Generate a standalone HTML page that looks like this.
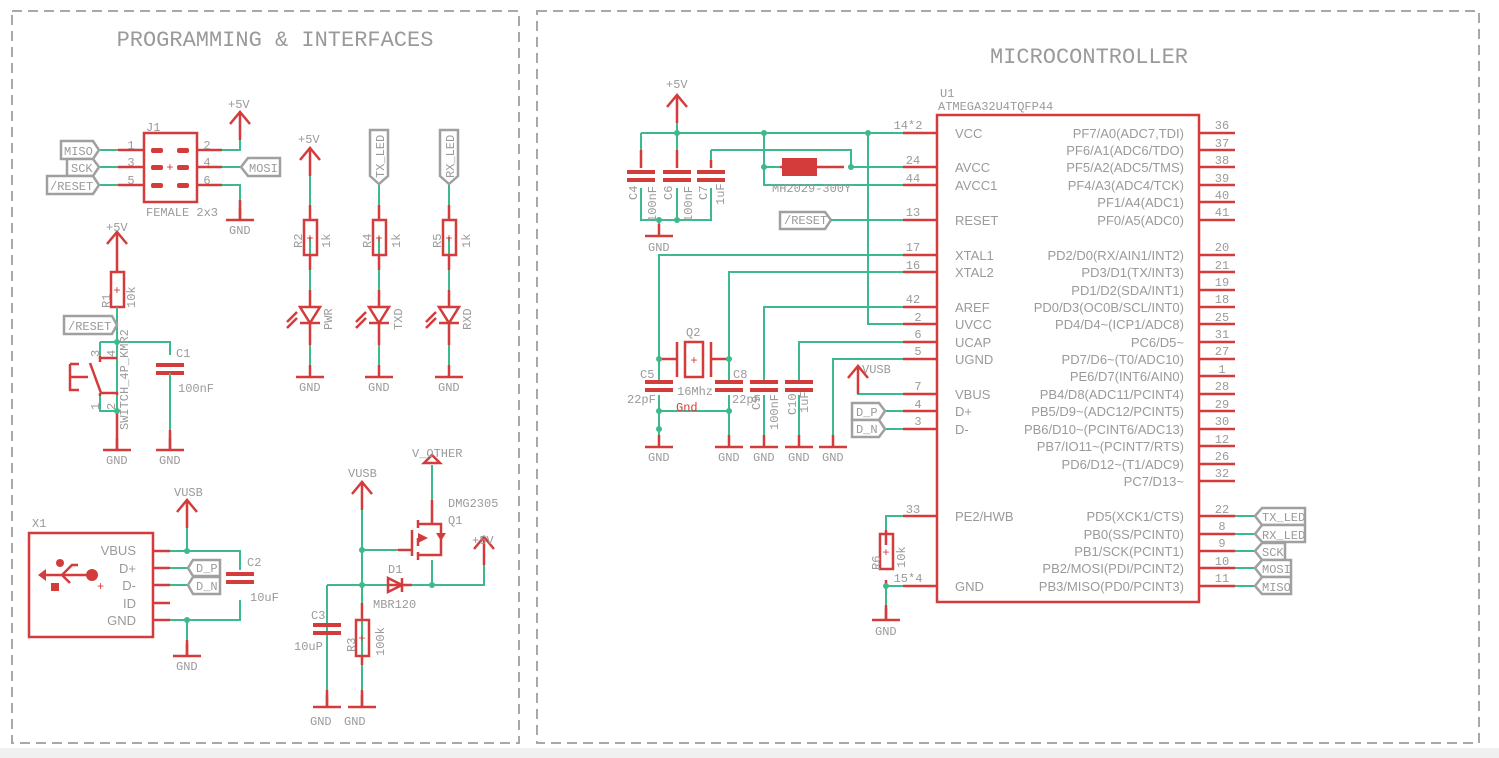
<!DOCTYPE html>
<html><head><meta charset="utf-8"><style>
html,body{margin:0;padding:0;background:#fff;}
svg{display:block;}
text{font-family:"Liberation Mono",monospace;fill:#9a9a9a;font-size:12px;}
.s text, text.s{font-family:"Liberation Sans",sans-serif;font-size:13px;}
.r{stroke:#d43c3c;stroke-width:2.5;fill:none;}
.g{stroke:#3dba8c;stroke-width:2;fill:none;}
.gy{stroke:#a0a0a0;stroke-width:2.5;fill:#fff;}
.rf{fill:#d43c3c;}
.j{fill:#3dba8c;}
</style></head><body>
<svg width="1499" height="758" viewBox="0 0 1499 758" xmlns="http://www.w3.org/2000/svg">
<defs>
<g id="gnd"><line x1="-14" y1="0" x2="14" y2="0" class="r"/><line x1="0" y1="0" x2="0" y2="-12" class="r"/></g>
<g id="sup"><line x1="0" y1="0" x2="0" y2="-28" class="r"/><polyline points="-10,-16 0,-28 10,-16" class="r"/></g>
<g id="capv"><line x1="-14" y1="0" x2="14" y2="0" stroke="#d43c3c" stroke-width="4"/><line x1="-14" y1="8" x2="14" y2="8" stroke="#d43c3c" stroke-width="4"/></g>
</defs>
<rect x="0" y="748" width="1499" height="10" fill="#f0f0f0"/>
<rect x="12" y="11" width="507" height="732" fill="none" stroke="#a8a8a8" stroke-width="2" stroke-dasharray="10,6"/>
<rect x="537" y="11" width="942" height="732" fill="none" stroke="#a8a8a8" stroke-width="2" stroke-dasharray="10,6"/>
<text x="275" y="46" text-anchor="middle" style="font-size:22px">PROGRAMMING &amp; INTERFACES</text>
<text x="1089" y="63" text-anchor="middle" style="font-size:22px">MICROCONTROLLER</text>

<!-- J1 -->
<rect x="144" y="133" width="53" height="69" class="r" stroke-width="3"/>
<g class="rf"><rect x="151" y="148" width="12" height="5" rx="2"/><rect x="177" y="148" width="12" height="5" rx="2"/><rect x="151" y="165" width="12" height="5" rx="2"/><rect x="177" y="165" width="12" height="5" rx="2"/><rect x="151" y="183" width="12" height="5" rx="2"/><rect x="177" y="183" width="12" height="5" rx="2"/></g>
<text x="170" y="171" text-anchor="middle" style="fill:#d43c3c">+</text>
<path d="M118 150H144M118 167H144M118 185H144M197 150H222M197 167H222M197 185H222" class="r"/>
<path d="M100 150H118M100 167H118M100 185H118M222 150H240V120M222 167H240M222 185H240V200" class="g"/>
<line x1="240" y1="200" x2="240" y2="220" class="r"/>
<text x="131" y="149" text-anchor="middle">1</text><text x="131" y="166" text-anchor="middle">3</text><text x="131" y="184" text-anchor="middle">5</text>
<text x="207" y="149" text-anchor="middle">2</text><text x="207" y="166" text-anchor="middle">4</text><text x="207" y="184" text-anchor="middle">6</text>
<text x="146" y="131">J1</text><text x="146" y="216">FEMALE 2x3</text>
<use href="#sup" x="240" y="140"/><text x="228" y="108">+5V</text>
<use href="#gnd" x="240" y="220"/><text x="229" y="234">GND</text>
<polygon points="61,141 93,141 99,150 93,159 61,159" class="gy"/><text x="64" y="155">MISO</text>
<polygon points="67,159 93,159 99,167 93,176 67,176" class="gy"/><text x="71" y="172">SCK</text>
<polygon points="47,176 93,176 99,185 93,194 47,194" class="gy"/><text x="50" y="190">/RESET</text>
<polygon points="280,158 248,158 241,167 248,176 280,176" class="gy"/><text x="249" y="172">MOSI</text>

<!-- R1 / reset -->
<use href="#sup" x="117" y="260"/><text x="106" y="231">+5V</text>
<line x1="117" y1="260" x2="117" y2="272" class="r"/>
<rect x="111" y="272" width="13" height="35" class="r"/><text x="117" y="294" text-anchor="middle" style="fill:#d43c3c">+</text>
<text x="0" y="0" transform="translate(110,308) rotate(-90)">R1</text><text x="0" y="0" transform="translate(135,308) rotate(-90)">10k</text>
<path d="M117 307V411M100 325H117M100 342H170V355M100 342V358M100 395V411H117" class="g"/>
<polygon points="64,316 112,316 117,325 112,334 64,334" class="gy"/><text x="68" y="330">/RESET</text>
<path d="M100 358H117M100 356V362M101 393H117V395M100 393V396M90 363L101 393M70 364V390H79M70 364H79M70 377H88" class="r"/>
<text x="0" y="0" transform="translate(128,430) rotate(-90)">SWITCH_4P_KMR2</text>
<text x="0" y="0" transform="translate(99,357) rotate(-90)">3</text><text x="0" y="0" transform="translate(115,357) rotate(-90)">4</text>
<text x="0" y="0" transform="translate(99,410) rotate(-90)">1</text><text x="0" y="0" transform="translate(115,410) rotate(-90)">2</text>
<line x1="117" y1="411" x2="117" y2="450" class="r"/>
<use href="#capv" x="170" y="365"/><text x="176" y="357">C1</text><text x="178" y="392">100nF</text>
<path d="M170 373V430" class="g"/><line x1="170" y1="430" x2="170" y2="450" class="r"/>
<use href="#gnd" x="117" y="450"/><text x="106" y="464">GND</text>
<use href="#gnd" x="170" y="450"/><text x="159" y="464">GND</text>
<circle cx="117" cy="342" r="3" class="j"/><circle cx="117" cy="411" r="3" class="j"/>

<!-- LEDs -->
<g id="ledcol">
<path d="M310 165V205M310 237V300M310 345V377" class="g"/>
<path d="M310 205V220M310 255V270M310 290V307M310 323V345M300 307H320L310 323ZM300 323H320" class="r"/>
<rect x="304" y="220" width="13" height="35" class="r"/><text x="310" y="242" text-anchor="middle" style="fill:#d43c3c">+</text>
<path d="M297 312L287 322M297 318L287 328" class="r"/>
<use href="#gnd" x="310" y="377"/>
</g>
<use href="#ledcol" x="69"/><use href="#ledcol" x="139"/>
<use href="#sup" x="310" y="176"/><text x="298" y="143">+5V</text>
<polygon points="370,130 388,130 388,176 379,184 370,176" class="gy"/><text x="0" y="0" transform="translate(384,178) rotate(-90)">TX_LED</text>
<polygon points="440,130 458,130 458,176 449,184 440,176" class="gy"/><text x="0" y="0" transform="translate(454,178) rotate(-90)">RX_LED</text>
<text x="0" y="0" transform="translate(302,248) rotate(-90)">R2</text><text x="0" y="0" transform="translate(330,248) rotate(-90)">1k</text>
<text x="0" y="0" transform="translate(371,248) rotate(-90)">R4</text><text x="0" y="0" transform="translate(400,248) rotate(-90)">1k</text>
<text x="0" y="0" transform="translate(441,248) rotate(-90)">R5</text><text x="0" y="0" transform="translate(470,248) rotate(-90)">1k</text>
<text x="0" y="0" transform="translate(332,330) rotate(-90)">PWR</text><text x="0" y="0" transform="translate(402,330) rotate(-90)">TXD</text><text x="0" y="0" transform="translate(471,330) rotate(-90)">RXD</text>
<text x="299" y="391">GND</text><text x="368" y="391">GND</text><text x="438" y="391">GND</text>

<!-- USB -->
<rect x="29" y="533" width="124" height="104" class="r"/>
<text x="32" y="527">X1</text>
<text x="136" y="555" text-anchor="end" class="s">VBUS</text><text x="136" y="573" text-anchor="end" class="s">D+</text><text x="136" y="590" text-anchor="end" class="s">D-</text><text x="136" y="608" text-anchor="end" class="s">ID</text><text x="136" y="625" text-anchor="end" class="s">GND</text>
<path d="M153 551H170M153 568H170M153 585H170M153 603H170M153 620H170" class="r"/>
<path d="M170 551H240V570M170 568H187M170 585H187M170 620H240V600M187 510V551M187 620V640" class="g"/>
<path d="M44 575H90M62 575L72 565H78M62 575L70 583" class="r"/><polygon points="38,575 46,569 46,581" class="rf"/><circle cx="92" cy="575" r="6" class="rf"/><circle cx="60" cy="563" r="4" class="rf"/><rect x="51" y="583" width="8" height="8" class="rf"/>
<text x="97" y="590" style="fill:#d43c3c">+</text>
<use href="#sup" x="187" y="528"/><text x="174" y="496">VUSB</text>
<polygon points="220,560 193,560 188,568 193,576 220,576" class="gy"/><text x="196" y="572">D_P</text>
<polygon points="220,577 193,577 188,585 193,594 220,594" class="gy"/><text x="196" y="590">D_N</text>
<use href="#capv" x="240" y="574"/><text x="247" y="566">C2</text><text x="250" y="601">10uF</text>
<line x1="187" y1="640" x2="187" y2="656" class="r"/><use href="#gnd" x="187" y="656"/><text x="176" y="670">GND</text>
<circle cx="187" cy="551" r="3" class="j"/><circle cx="187" cy="620" r="3" class="j"/>

<!-- power -->
<use href="#sup" x="362" y="510"/><text x="348" y="477">VUSB</text>
<path d="M362 510V707M362 550H398M362 585H388M412 585H484V565M327 585H362M327 585V700M432 465V500M432 560V585" class="g"/>
<path d="M398 550H412M412 530V556M418 520V528M418 538V546M418 552V560M418 524H432V500M418 555H441V528M432 524H441V534" class="r"/>
<polygon points="418,533 428,538 418,543" class="rf"/><polygon points="436,533 446,533 441,541" class="rf"/>
<path d="M424 463L432 455L440 463Z" class="r"/>
<text x="412" y="457">V_OTHER</text><text x="448" y="507">DMG2305</text><text x="448" y="524">Q1</text>
<path d="M388 585H412M388 578V592L402 585ZM402 578V592" class="r"/>
<text x="388" y="573">D1</text><text x="373" y="608">MBR120</text>
<use href="#sup" x="484" y="565"/><text x="472" y="544">+5V</text>
<use href="#capv" x="327" y="625"/><text x="311" y="619">C3</text><text x="294" y="650">10uP</text>
<rect x="356" y="620" width="13" height="36" class="r"/><text x="362" y="642" text-anchor="middle" style="fill:#d43c3c">+</text>
<text x="0" y="0" transform="translate(355,652) rotate(-90)">R3</text><text x="0" y="0" transform="translate(384,656) rotate(-90)">100k</text>
<path d="M327 690V707M362 690V707M362 603V620M362 656V665" class="r"/>
<use href="#gnd" x="327" y="707"/><use href="#gnd" x="362" y="707"/>
<text x="310" y="725">GND</text><text x="344" y="725">GND</text>
<circle cx="362" cy="550" r="3" class="j"/><circle cx="362" cy="585" r="3" class="j"/><circle cx="432" cy="585" r="3" class="j"/>

<!-- MCU chip -->
<rect x="937" y="115" width="262" height="487" class="r"/>
<text x="940" y="97">U1</text><text x="938" y="110">ATMEGA32U4TQFP44</text>
<g class="s">
<text x="955" y="138">VCC</text><text x="955" y="172">AVCC</text><text x="955" y="190">AVCC1</text><text x="955" y="225">RESET</text>
<text x="955" y="260">XTAL1</text><text x="955" y="277">XTAL2</text><text x="955" y="312">AREF</text><text x="955" y="329">UVCC</text>
<text x="955" y="347">UCAP</text><text x="955" y="364">UGND</text><text x="955" y="399">VBUS</text><text x="955" y="416">D+</text><text x="955" y="434">D-</text>
<text x="955" y="521">PE2/HWB</text><text x="955" y="591">GND</text>
</g>
<g class="s" text-anchor="end">
<text x="1184" y="138">PF7/A0(ADC7,TDI)</text><text x="1184" y="155">PF6/A1(ADC6/TDO)</text><text x="1184" y="172">PF5/A2(ADC5/TMS)</text><text x="1184" y="190">PF4/A3(ADC4/TCK)</text><text x="1184" y="207">PF1/A4(ADC1)</text><text x="1184" y="225">PF0/A5(ADC0)</text>
<text x="1184" y="260">PD2/D0(RX/AIN1/INT2)</text><text x="1184" y="277">PD3/D1(TX/INT3)</text><text x="1184" y="295">PD1/D2(SDA/INT1)</text><text x="1184" y="312">PD0/D3(OC0B/SCL/INT0)</text><text x="1184" y="329">PD4/D4~(ICP1/ADC8)</text><text x="1184" y="347">PC6/D5~</text><text x="1184" y="364">PD7/D6~(T0/ADC10)</text><text x="1184" y="381">PE6/D7(INT6/AIN0)</text><text x="1184" y="399">PB4/D8(ADC11/PCINT4)</text><text x="1184" y="416">PB5/D9~(ADC12/PCINT5)</text><text x="1184" y="434">PB6/D10~(PCINT6/ADC13)</text><text x="1184" y="451">PB7/IO11~(PCINT7/RTS)</text><text x="1184" y="469">PD6/D12~(T1/ADC9)</text><text x="1184" y="486">PC7/D13~</text>
<text x="1184" y="521">PD5(XCK1/CTS)</text><text x="1184" y="539">PB0(SS/PCINT0)</text><text x="1184" y="556">PB1/SCK(PCINT1)</text><text x="1184" y="573">PB2/MOSI(PDI/PCINT2)</text><text x="1184" y="591">PB3/MISO(PD0/PCINT3)</text>
</g>
<path d="M903 133H937M903 167H937M903 185H937M903 220H937M903 255H937M903 272H937M903 307H937M903 324H937M903 342H937M903 359H937M903 394H937M903 411H937M903 429H937M903 516H937M903 586H937" class="r"/>
<path d="M1199 133H1235M1199 150H1235M1199 167H1235M1199 185H1235M1199 202H1235M1199 220H1235M1199 255H1235M1199 272H1235M1199 290H1235M1199 307H1235M1199 324H1235M1199 342H1235M1199 359H1235M1199 376H1235M1199 394H1235M1199 411H1235M1199 429H1235M1199 446H1235M1199 464H1235M1199 481H1235M1199 516H1235M1199 534H1235M1199 551H1235M1199 568H1235M1199 586H1235" class="r"/>
<g text-anchor="middle">
<text x="908" y="129">14*2</text><text x="913" y="164">24</text><text x="913" y="182">44</text><text x="913" y="216">13</text><text x="913" y="251">17</text><text x="913" y="269">16</text><text x="913" y="303">42</text><text x="918" y="321">2</text><text x="918" y="338">6</text><text x="918" y="355">5</text><text x="918" y="390">7</text><text x="918" y="408">4</text><text x="918" y="425">3</text><text x="913" y="513">33</text><text x="908" y="582">15*4</text>
<text x="1222" y="129">36</text><text x="1222" y="147">37</text><text x="1222" y="164">38</text><text x="1222" y="182">39</text><text x="1222" y="199">40</text><text x="1222" y="216">41</text><text x="1222" y="251">20</text><text x="1222" y="269">21</text><text x="1222" y="286">19</text><text x="1222" y="303">18</text><text x="1222" y="321">25</text><text x="1222" y="338">31</text><text x="1222" y="355">27</text><text x="1222" y="373">1</text><text x="1222" y="390">28</text><text x="1222" y="408">29</text><text x="1222" y="425">30</text><text x="1222" y="443">12</text><text x="1222" y="460">26</text><text x="1222" y="477">32</text>
<text x="1222" y="513">22</text><text x="1222" y="530">8</text><text x="1222" y="547">9</text><text x="1222" y="565">10</text><text x="1222" y="582">11</text>
</g>
<path d="M1235 516H1255M1235 534H1255M1235 551H1255M1235 568H1255M1235 586H1255" class="g"/>
<polygon points="1255,516 1262,508 1305,508 1305,525 1262,525" class="gy"/><text x="1262" y="521">TX_LED</text>
<polygon points="1255,534 1262,525 1305,525 1305,542 1262,542" class="gy"/><text x="1262" y="539">RX_LED</text>
<polygon points="1255,551 1262,543 1285,543 1285,560 1262,560" class="gy"/><text x="1262" y="556">SCK</text>
<polygon points="1255,568 1262,560 1291,560 1291,577 1262,577" class="gy"/><text x="1262" y="573">MOSI</text>
<polygon points="1255,586 1262,577 1291,577 1291,594 1262,594" class="gy"/><text x="1262" y="591">MISO</text>

<!-- MCU left side -->
<use href="#sup" x="677" y="123"/><text x="666" y="88">+5V</text>
<path d="M677 123V133M641 133H903M641 133V150M677 133V150M711 150V160M711 150H851V167M764 133V185H903M851 167H903M764 167H780M641 188V220H711V188M677 188V220M659 220V224" class="g"/>
<path d="M641 150V168M677 150V168M711 160V168M780 167H844" class="r"/>
<rect x="782" y="158" width="35" height="18" class="rf"/>
<use href="#capv" x="641" y="172"/><use href="#capv" x="677" y="172"/><use href="#capv" x="711" y="172"/>
<text x="0" y="0" transform="translate(637,200) rotate(-90)">C4</text><text x="0" y="0" transform="translate(656,222) rotate(-90)">100nF</text>
<text x="0" y="0" transform="translate(672,200) rotate(-90)">C6</text><text x="0" y="0" transform="translate(692,222) rotate(-90)">100nF</text>
<text x="0" y="0" transform="translate(707,200) rotate(-90)">C7</text><text x="0" y="0" transform="translate(724,205) rotate(-90)">1uF</text>
<text x="772" y="192">MH2029-300Y</text>
<use href="#gnd" x="659" y="236"/><text x="648" y="251">GND</text>
<polygon points="780,212 825,212 831,220 825,229 780,229" class="gy"/><text x="784" y="224">/RESET</text>
<path d="M831 220H903M903 255H659V380M903 272H729V380M903 307H764V380M903 324H868V133M903 342H799V380M903 359H833V447M903 394H858V380M885 411H903M885 429H903M659 395V447M729 395V447M764 395V447M799 395V447M659 411H729" class="g"/>
<path d="M659 359H677M711 359H729M677 342V377M711 342V377" class="r"/>
<rect x="685" y="342" width="18" height="35" class="r"/><text x="694" y="364" text-anchor="middle" style="fill:#d43c3c">+</text>
<text x="686" y="336">Q2</text><text x="677" y="395">16Mhz</text><text x="676" y="411" style="fill:#d43c3c">Gnd</text>
<use href="#capv" x="659" y="382"/><use href="#capv" x="729" y="382"/><use href="#capv" x="764" y="382"/><use href="#capv" x="799" y="382"/>
<text x="640" y="378">C5</text><text x="627" y="403">22pF</text><text x="733" y="378">C8</text><text x="732" y="403">22pF</text>
<text x="0" y="0" transform="translate(760,410) rotate(-90)">C9</text><text x="0" y="0" transform="translate(778,430) rotate(-90)">100nF</text>
<text x="0" y="0" transform="translate(796,415) rotate(-90)">C10</text><text x="0" y="0" transform="translate(808,413) rotate(-90)">1uF</text>
<use href="#gnd" x="659" y="447"/><use href="#gnd" x="729" y="447"/><use href="#gnd" x="764" y="447"/><use href="#gnd" x="799" y="447"/><use href="#gnd" x="833" y="447"/>
<text x="648" y="461">GND</text><text x="718" y="461">GND</text><text x="753" y="461">GND</text><text x="788" y="461">GND</text><text x="822" y="461">GND</text>
<use href="#sup" x="858" y="394"/><text x="862" y="373">VUSB</text>
<polygon points="852,403 879,403 885,411 879,420 852,420" class="gy"/><text x="856" y="416">D_P</text>
<polygon points="852,420 879,420 885,429 879,437 852,437" class="gy"/><text x="856" y="433">D_N</text>
<path d="M903 516H886V530M903 586H886V605" class="g"/>
<path d="M886 530V545M886 580V586M886 605V620" class="r"/>
<rect x="880" y="534" width="13" height="35" class="r"/><text x="886" y="556" text-anchor="middle" style="fill:#d43c3c">+</text>
<text x="0" y="0" transform="translate(880,570) rotate(-90)">R6</text><text x="0" y="0" transform="translate(905,568) rotate(-90)">10k</text>
<use href="#gnd" x="886" y="620"/><text x="875" y="635">GND</text>
<g class="j"><circle cx="677" cy="133" r="3"/><circle cx="764" cy="133" r="3"/><circle cx="868" cy="133" r="3"/><circle cx="764" cy="167" r="3"/><circle cx="851" cy="167" r="3"/><circle cx="659" cy="220" r="3"/><circle cx="677" cy="220" r="3"/><circle cx="659" cy="359" r="3"/><circle cx="729" cy="359" r="3"/><circle cx="659" cy="411" r="3"/><circle cx="729" cy="411" r="3"/><circle cx="659" cy="429" r="3"/><circle cx="886" cy="586" r="3"/></g>
</svg>
</body></html>
